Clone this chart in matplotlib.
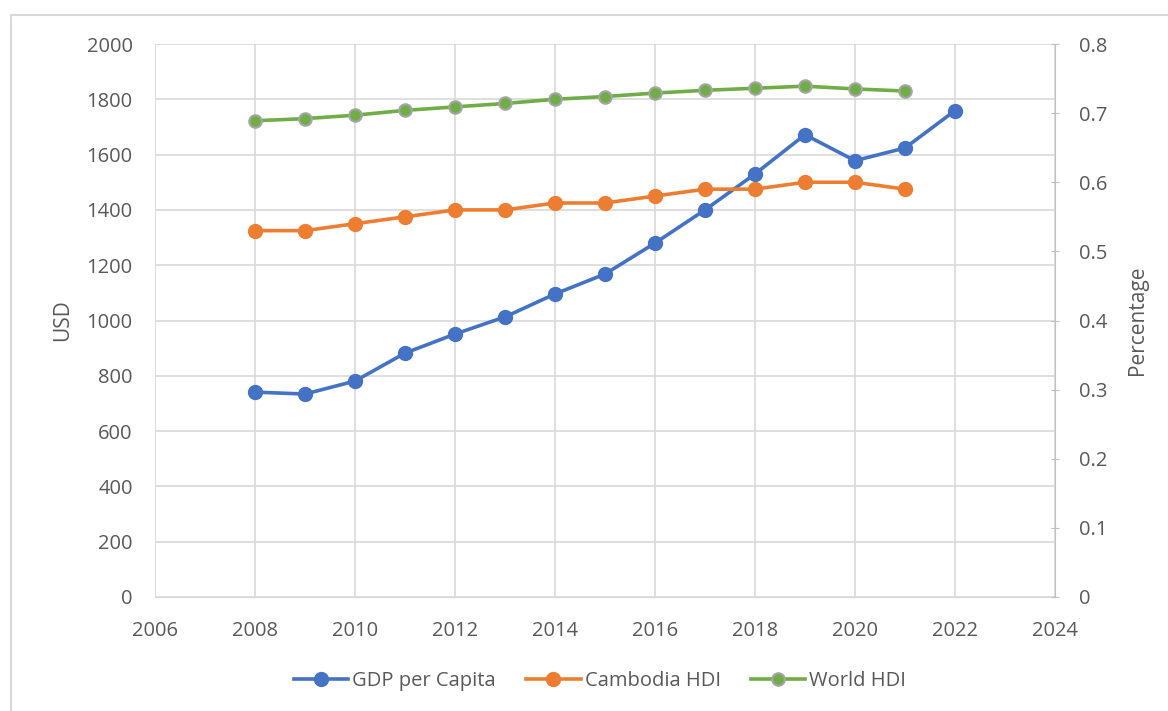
import matplotlib.pyplot as plt
from matplotlib.lines import Line2D

years = [2008, 2009, 2010, 2011, 2012, 2013, 2014, 2015, 2016, 2017, 2018, 2019, 2020, 2021, 2022]
gdp = [741, 734, 781, 882, 951, 1013, 1096, 1168, 1280, 1400, 1530, 1672, 1578, 1624, 1759]

hdi_years = [2008, 2009, 2010, 2011, 2012, 2013, 2014, 2015, 2016, 2017, 2018, 2019, 2020, 2021]
cambodia_hdi = [0.53, 0.53, 0.54, 0.55, 0.56, 0.56, 0.57, 0.57, 0.58, 0.59, 0.59, 0.60, 0.60, 0.59]
world_hdi = [0.689, 0.692, 0.697, 0.704, 0.709, 0.714, 0.720, 0.724, 0.729, 0.733, 0.736, 0.739, 0.735, 0.732]

plt.rcParams['font.family'] = ['Open Sans', 'DejaVu Sans']
txt = '#595959'
grid = '#d9d9d9'
fs = 14.5

fig = plt.figure(figsize=(11.68, 7.11), dpi=100)
# outer chart border (only top and left edges are visible in the picture)
fig.lines.append(Line2D([11 / 1168, 11 / 1168, 1.0], [0.0, 1 - 15 / 711, 1 - 15 / 711],
                        transform=fig.transFigure, color='#d9d9d9', lw=1.5))
ax = fig.add_axes([155 / 1168, 1 - 597 / 711, 900 / 1168, 553 / 711])
ax2 = ax.twinx()

l1, = ax.plot(years, gdp, color='#4472c4', lw=2.6, marker='o', ms=10, label='GDP per Capita')
l2, = ax2.plot(hdi_years, cambodia_hdi, color='#ed7d31', lw=2.6, marker='o', ms=10, label='Cambodia HDI')
l3, = ax2.plot(hdi_years, world_hdi, color='#70ad47', lw=2.6, marker='o', ms=9,
               markeredgecolor='#a5a5a5', markeredgewidth=1.5, label='World HDI')

ax.set_xlim(2006, 2024)
ax.set_ylim(0, 2000)
ax.set_xticks(range(2006, 2025, 2))
ax.set_yticks(range(0, 2001, 200))
ax2.set_ylim(0, 0.8)
ax2.set_yticks([0, 0.1, 0.2, 0.3, 0.4, 0.5, 0.6, 0.7, 0.8])
ax2.set_yticklabels(['0', '0.1', '0.2', '0.3', '0.4', '0.5', '0.6', '0.7', '0.8'])

ax.grid(True, color=grid, lw=1.2)
ax.set_axisbelow(True)
for a in (ax, ax2):
    for s in a.spines.values():
        s.set_visible(False)
ax.spines['bottom'].set_visible(True)
ax.spines['bottom'].set_color(grid)
ax2.spines['right'].set_visible(True)
ax2.spines['right'].set_color('#bfbfbf')

ax.tick_params(axis='y', length=0, labelsize=fs, labelcolor=txt, pad=16)
ax.tick_params(axis='x', length=0, labelsize=fs, labelcolor=txt, pad=17)
ax2.tick_params(axis='y', direction='inout', length=6, color='#bfbfbf', labelsize=fs, labelcolor=txt, pad=14)

ax.set_ylabel('USD', fontsize=15, color=txt, labelpad=10)
ax2.set_ylabel('Percentage', fontsize=15, color=txt, labelpad=14)

fig.legend(handles=[l1, l2, l3], loc='center', bbox_to_anchor=(600 / 1168, 1 - 681 / 711), ncol=3,
           frameon=False, fontsize=fs, labelcolor=txt, handlelength=2.7, columnspacing=1.5, handletextpad=0.2)

fig.savefig('out.png', dpi=100)
